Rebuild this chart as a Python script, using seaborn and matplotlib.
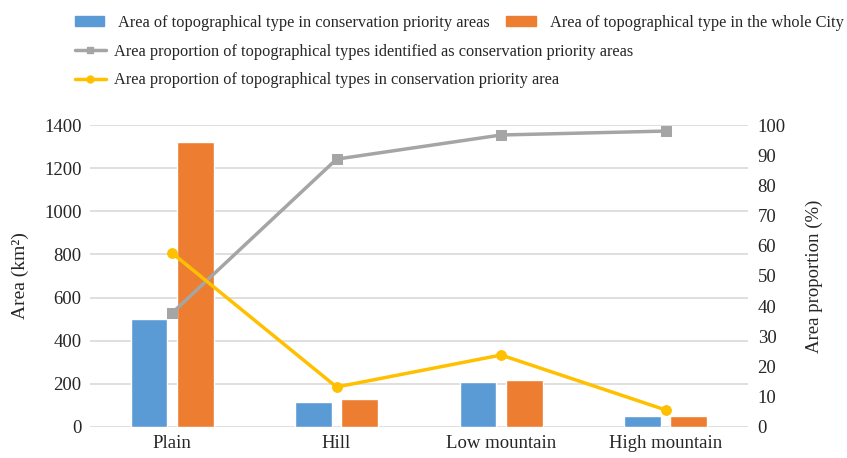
import numpy as np
import pandas as pd
import matplotlib
matplotlib.use("Agg")
import matplotlib.pyplot as plt
import seaborn as sns
from matplotlib.patches import Patch
from matplotlib.lines import Line2D

# dados
categorias = ["Plain", "Hill", "Low mountain", "High mountain"]
area_prioridade = [502, 116, 209, 50]
area_cidade = [1320, 130, 218, 50]
prop_identificada = [37.7, 88.7, 96.7, 98.0]
prop_na_prioridade = [57.6, 13.2, 23.8, 5.6]

nome_azul = "Area of topographical type in conservation priority areas"
nome_laranja = "Area of topographical type in the whole City"
nome_cinza = "Area proportion of topographical types identified as conservation priority areas"
nome_amarelo = "Area proportion of topographical types in conservation priority area"

AZUL = "#5B9BD5"
LARANJA = "#ED7D31"
CINZA = "#A5A5A5"
AMARELO = "#FFC000"

df_barras = pd.DataFrame({
    "tipo": categorias * 2,
    "area": area_prioridade + area_cidade,
    "serie": [nome_azul] * 4 + [nome_laranja] * 4,
})

sns.set_style("white")
plt.rcParams["font.family"] = ["Liberation Serif", "DejaVu Serif"]

fig = plt.figure(figsize=(8.47, 4.58), dpi=100)
ax = fig.add_axes([0.106, 0.068, 0.777, 0.659])

sns.barplot(data=df_barras, x="tipo", y="area", hue="serie", order=categorias,
            hue_order=[nome_azul, nome_laranja], palette=[AZUL, LARANJA],
            saturation=1, width=0.56, gap=0.2, ax=ax, legend=False, zorder=2)
ax.set_ylim(0, 1400)
ax.set_yticks(np.arange(0, 1401, 200))
ax.yaxis.grid(True, color="#D9D9D9", linewidth=1.2, zorder=0)
ax.set_axisbelow(True)
ax.set_xlim(-0.5, 3.5)
ax.set_xlabel("")
ax.set_ylabel("Area (km²)", fontsize=14, labelpad=11)
ax.tick_params(axis="both", labelsize=13.5, length=0, pad=6)
for s in ax.spines.values():
    s.set_visible(False)

ax2 = ax.twinx()
x_pos = np.arange(len(categorias))
sns.lineplot(x=x_pos, y=prop_identificada, ax=ax2, color=CINZA, linewidth=2.5,
             marker="s", markersize=7, markeredgecolor=CINZA)
sns.lineplot(x=x_pos, y=prop_na_prioridade, ax=ax2, color=AMARELO, linewidth=2.5,
             marker="o", markersize=7, markeredgecolor=AMARELO)
ax2.set_ylim(0, 100)
ax2.set_yticks(np.arange(0, 101, 10))
ax2.set_ylabel("Area proportion (%)", fontsize=13.5, labelpad=14)
ax2.tick_params(axis="y", labelsize=13.5, length=0, pad=7)
ax2.grid(False)
for s in ax2.spines.values():
    s.set_visible(False)
ax.set_xticks(x_pos)
ax.set_xticklabels(categorias, fontsize=13.5)

# legendas no topo
h_barras = [Patch(color=AZUL, label=nome_azul), Patch(color=LARANJA, label=nome_laranja)]
fig.legend(handles=h_barras, loc="upper left", bbox_to_anchor=(0.071, 1.0), ncol=2,
           frameon=False, fontsize=11.8, handlelength=1.8, handleheight=0.55,
           columnspacing=1.0, handletextpad=0.85)
h_linhas = [Line2D([], [], color=CINZA, linewidth=2.5, marker="s", markersize=5, label=nome_cinza),
            Line2D([], [], color=AMARELO, linewidth=2.5, marker="o", markersize=5, label=nome_amarelo)]
fig.legend(handles=h_linhas, loc="upper left", bbox_to_anchor=(0.071, 0.937), ncol=1,
           frameon=False, fontsize=11.8, handlelength=1.9, handletextpad=0.5,
           labelspacing=0.78)

fig.savefig("out.png", dpi=100)
plt.close(fig)
